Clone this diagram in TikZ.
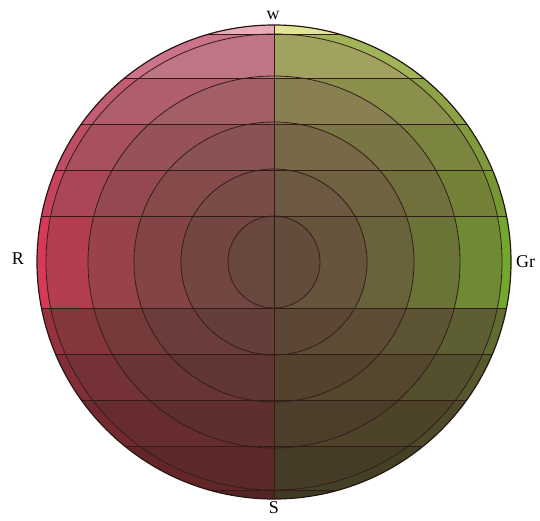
\documentclass[tikz,border=0pt]{standalone}
\usepackage{fontspec}
\setmainfont{Liberation Serif}
\definecolor{A0}{RGB}{215,185,175}\definecolor{L0}{RGB}{232,172,184}\definecolor{R0}{RGB}{224,230,150}
\definecolor{A1}{RGB}{160,120,112}\definecolor{L1}{RGB}{204,115,140}\definecolor{R1}{RGB}{162,180,88}
\definecolor{A2}{RGB}{135,98,90}\definecolor{L2}{RGB}{194,92,116}\definecolor{R2}{RGB}{140,162,70}
\definecolor{A3}{RGB}{118,85,76}\definecolor{L3}{RGB}{190,78,102}\definecolor{R3}{RGB}{126,154,58}
\definecolor{A4}{RGB}{108,78,68}\definecolor{L4}{RGB}{198,66,95}\definecolor{R4}{RGB}{118,152,50}
\definecolor{A5}{RGB}{100,72,62}\definecolor{L5}{RGB}{214,58,88}\definecolor{R5}{RGB}{114,168,46}
\definecolor{A6}{RGB}{92,64,55}\definecolor{L6}{RGB}{150,50,64}\definecolor{R6}{RGB}{94,108,48}
\definecolor{A7}{RGB}{84,57,48}\definecolor{L7}{RGB}{130,46,56}\definecolor{R7}{RGB}{84,88,44}
\definecolor{A8}{RGB}{76,52,43}\definecolor{L8}{RGB}{114,42,48}\definecolor{R8}{RGB}{76,74,40}
\definecolor{A9}{RGB}{70,48,40}\definecolor{L9}{RGB}{98,38,40}\definecolor{R9}{RGB}{68,64,38}
\definecolor{A10}{RGB}{64,44,36}\definecolor{L10}{RGB}{84,36,36}\definecolor{R10}{RGB}{62,58,36}
\definecolor{inkline}{RGB}{50,28,24}
\tikzset{
  gridline/.style={draw=inkline, line width=0.8pt},
  rimline/.style={draw=inkline!80!black, line width=1.2pt},
  lbl/.style={font=\fontsize{18}{18}\selectfont, text=black, inner sep=0pt}
}
\begin{document}
\begin{tikzpicture}[x=1pt,y=-1pt]
\useasboundingbox (0,0) rectangle (540,520);
\fill[white] (0,0) rectangle (540,520);
\coordinate (C) at (274,262);
\foreach \b/\ya/\yb in {0/0/34, 1/34/78, 2/78/124, 3/124/170, 4/170/216, 5/216/308, 6/308/354, 7/354/400, 8/400/446, 9/446/490, 10/490/520}{
  \foreach \ri/\ro/\p in {0.01/46/4, 46/93/14, 93/140/28, 140/186/46, 186/228/70, 228/237/100}{
    \begin{scope}
      \clip (0,\ya) rectangle (274,\yb);
      \fill[L\b!\p!A\b, even odd rule] (C) circle (\ro) (C) circle (\ri);
    \end{scope}
    \begin{scope}
      \clip (274,\ya) rectangle (540,\yb);
      \fill[R\b!\p!A\b, even odd rule] (C) circle (\ro) (C) circle (\ri);
    \end{scope}
  }
}
\begin{scope}
  \clip (C) circle (237);
  \foreach \y in {34,78,124,170,216,308,354,400,446,490}{
    \draw[gridline] (0,\y) -- (540,\y);
  }
  \draw[gridline] (274,0) -- (274,520);
  \foreach \r in {46,93,140,186,228}{
    \draw[gridline] (C) circle (\r);
  }
\end{scope}
\draw[rimline] (C) circle (237);
\node[lbl] (W) at (273,15) {w};
\node[lbl] (R) at (18,259) {R};
\node[lbl, anchor=west] (Gr) at (516,262) {Gr};
\node[lbl] (S) at (274,508) {S};
\end{tikzpicture}
\end{document}
